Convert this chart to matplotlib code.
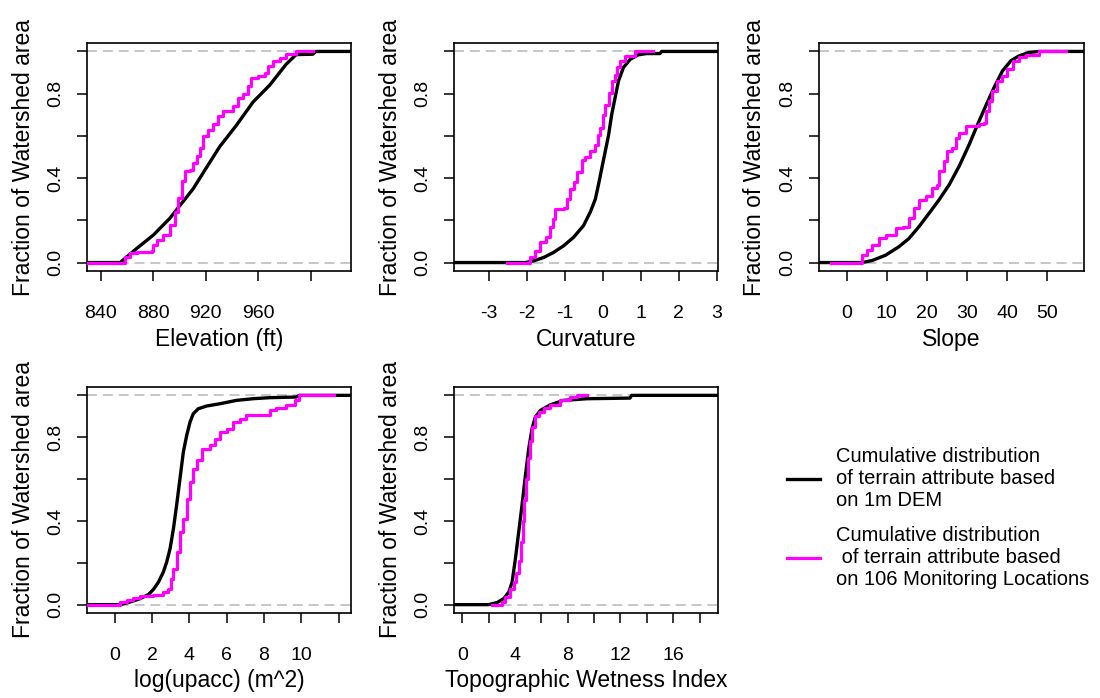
import matplotlib
matplotlib.use('Agg')
import matplotlib.pyplot as plt

plt.rcParams['font.family'] = ['Liberation Sans', 'DejaVu Sans']

# cumulative fraction curves: x = attribute value, f = fraction of watershed area
# black = whole 1m DEM, magenta = 106 monitoring locations

elev_dem_x = [829.4, 852, 854.7, 867.4, 880.0, 892.7, 900.3, 910.5, 920.6, 930.8, 943.4,
              956.1, 968.8, 981.5, 989.0, 1001.8, 1004, 1030.9]
elev_dem_f = [0, 0, 0.0, 0.067, 0.13, 0.21, 0.27, 0.35, 0.45, 0.55, 0.65,
              0.76, 0.84, 0.94, 0.985, 0.987, 1.0, 1.0]
elev_site_x = [829.4, 854.7, 858.5, 862.3, 867.4, 878.8, 880.0, 882.6, 887.7, 892.7, 896.5,
               899.0, 901.6, 904.1, 908.0, 910.5, 913.0, 915.6, 918.1, 921.9, 925.7, 929.5,
               933.3, 938.4, 940.9, 944.7, 948.5, 952.3, 954.8, 959.9, 965.0, 967.5, 971.3,
               976.4, 981.5, 989.1, 1001.8]
elev_site_f = [0, 0, 0.027, 0.043, 0.05, 0.054, 0.083, 0.106, 0.13, 0.178, 0.24,
               0.305, 0.384, 0.435, 0.44, 0.47, 0.503, 0.543, 0.598, 0.63, 0.654, 0.694,
               0.717, 0.72, 0.741, 0.781, 0.8, 0.837, 0.876, 0.884, 0.9, 0.932, 0.956,
               0.971, 0.987, 1.0, 1.0]

curv_dem_x = [-3.92, -2.04, -1.82, -1.56, -1.30, -1.03, -0.77, -0.51, -0.33, -0.20, -0.12,
              -0.03, 0.06, 0.15, 0.23, 0.32, 0.41, 0.54, 0.72, 0.93, 1.15, 1.50, 1.55, 3.03]
curv_dem_f = [0, 0, 0.008, 0.024, 0.048, 0.08, 0.12, 0.175, 0.24, 0.30, 0.366,
              0.446, 0.525, 0.605, 0.70, 0.78, 0.86, 0.924, 0.963, 0.984, 0.99, 0.99, 1.0, 1.0]
curv_site_x = [-2.52, -1.99, -1.91, -1.78, -1.65, -1.51, -1.38, -1.31, -1.25, -1.03, -0.95,
               -0.86, -0.77, -0.67, -0.55, -0.46, -0.33, -0.20, -0.14, -0.07, -0.01, 0.06,
               0.15, 0.23, 0.32, 0.37, 0.45, 0.58, 0.85, 1.33]
curv_site_f = [0, 0, 0.024, 0.056, 0.096, 0.12, 0.167, 0.207, 0.255, 0.258, 0.30,
               0.35, 0.38, 0.43, 0.486, 0.50, 0.53, 0.557, 0.605, 0.637, 0.70, 0.748,
               0.804, 0.86, 0.89, 0.924, 0.955, 0.979, 1.0, 1.0]

slope_dem_x = [-6.9, 3.9, 6.4, 9.7, 13.0, 15.5, 18.0, 20.5, 23.0, 25.5, 28.0, 30.5, 32.6,
               34.6, 36.7, 38.8, 40.9, 42.9, 45.4, 47.9, 59.1]
slope_dem_f = [0, 0, 0.01, 0.035, 0.075, 0.114, 0.17, 0.233, 0.297, 0.368, 0.456, 0.559, 0.654,
               0.741, 0.829, 0.908, 0.956, 0.979, 0.995, 1.0, 1.0]
slope_site_x = [-4.0, 3.5, 3.7, 5.1, 6.4, 8.1, 9.7, 12.2, 13.9, 15.5, 16.8, 18.0, 19.7, 21.3,
                22.6, 23.0, 24.3, 25.1, 26.3, 27.2, 28.0, 29.7, 32.1, 32.9, 34.2, 34.6, 35.5,
                36.3, 37.5, 38.8, 40.0, 41.3, 42.9, 44.6, 47.5, 47.9, 54.6]
slope_site_f = [0, 0, 0.035, 0.059, 0.083, 0.114, 0.13, 0.162, 0.17, 0.21, 0.257, 0.297, 0.313,
                0.352, 0.368, 0.432, 0.479, 0.527, 0.543, 0.59, 0.614, 0.646, 0.646, 0.654,
                0.662, 0.717, 0.765, 0.813, 0.86, 0.884, 0.916, 0.956, 0.975, 0.984, 0.984,
                1.0, 1.0]

upacc_dem_x = [-1.48, 0.3, 0.84, 1.37, 1.81, 2.08, 2.35, 2.61, 2.79, 2.97, 3.15, 3.32, 3.50,
               3.68, 3.86, 4.04, 4.21, 4.48, 4.92, 5.64, 6.52, 7.41, 8.3, 9.72, 9.9, 12.66]
upacc_dem_f = [0, 0, 0.013, 0.029, 0.048, 0.073, 0.108, 0.156, 0.204, 0.268, 0.363, 0.475,
               0.602, 0.729, 0.809, 0.873, 0.912, 0.936, 0.949, 0.96, 0.976, 0.984, 0.989,
               0.992, 1.0, 1.0]
upacc_site_x = [-1.48, -0.05, 0.3, 0.66, 1.01, 1.37, 2.08, 2.61, 2.88, 3.0, 3.15, 3.32, 3.5,
                3.68, 3.86, 4.04, 4.21, 4.39, 4.66, 5.1, 5.37, 5.64, 6.0, 6.35, 6.7, 7.06,
                8.21, 8.3, 8.66, 9.19, 9.64, 9.9, 11.77]
upacc_site_f = [0, 0, 0.013, 0.021, 0.033, 0.041, 0.048, 0.06, 0.076, 0.124, 0.172, 0.252,
                0.347, 0.411, 0.506, 0.586, 0.65, 0.69, 0.745, 0.761, 0.793, 0.825, 0.841,
                0.873, 0.889, 0.904, 0.904, 0.928, 0.94, 0.952, 0.976, 1.0, 1.0]

twi_dem_x = [-0.63, 2.0, 2.64, 3.15, 3.53, 3.78, 4.03, 4.28, 4.53, 4.79, 5.04, 5.29, 5.54,
             5.92, 6.68, 7.68, 9.45, 12.72, 12.85, 19.4]
twi_dem_f = [0, 0, 0.01, 0.029, 0.06, 0.108, 0.22, 0.347, 0.475, 0.618, 0.745, 0.841, 0.896,
             0.928, 0.955, 0.976, 0.984, 0.987, 1.0, 1.0]
twi_site_x = [2.27, 2.77, 3.02, 3.27, 3.6, 3.9, 4.1, 4.3, 4.45, 4.58, 4.7, 4.83, 4.96,
              5.1, 5.3, 5.5, 5.79, 6.17, 6.68, 7.43, 8.19, 8.69, 9.45]
twi_site_f = [0, 0, 0.013, 0.037, 0.076, 0.108, 0.15, 0.21, 0.30, 0.40, 0.50, 0.60, 0.70,
              0.78, 0.85, 0.90, 0.92, 0.94, 0.955, 0.976, 0.992, 1.0, 1.0]

x_titles = ['Elevation (ft)', 'Curvature', 'Slope', 'log(upacc) (m^2)', 'Topographic Wetness Index']
x_limits = [(829.4, 1030.9), (-3.92, 3.03), (-6.9, 59.1), (-1.48, 12.66), (-0.63, 19.4)]
x_ticks = [[840, 880, 920, 960, 1000],
           [-3, -2, -1, 0, 1, 2, 3],
           [0, 10, 20, 30, 40, 50],
           [0, 2, 4, 6, 8, 10, 12],
           [0, 2, 4, 6, 8, 10, 12, 14, 16, 18]]
x_ticklabels = [['840', '880', '920', '960', ''],
                ['-3', '-2', '-1', '0', '1', '2', '3'],
                ['0', '10', '20', '30', '40', '50'],
                ['0', '2', '4', '6', '8', '10', ''],
                ['0', '', '4', '', '8', '', '12', '', '16', '']]
y_ticks = [0, 0.2, 0.4, 0.6, 0.8, 1.0]
y_ticklabels = ['0.0', '', '0.4', '', '0.8', '']

dem_x = [elev_dem_x, curv_dem_x, slope_dem_x, upacc_dem_x, twi_dem_x]
dem_f = [elev_dem_f, curv_dem_f, slope_dem_f, upacc_dem_f, twi_dem_f]
site_x = [elev_site_x, curv_site_x, slope_site_x, upacc_site_x, twi_site_x]
site_f = [elev_site_f, curv_site_f, slope_site_f, upacc_site_f, twi_site_f]

legend_labels = ['Cumulative distribution\nof terrain attribute based\non 1m DEM',
                 'Cumulative distribution\n of terrain attribute based\non 106 Monitoring Locations']

W, H = 1100, 698
fig = plt.figure(figsize=(11, 6.98), dpi=100)

# axes boxes in pixels: left, top, right, bottom
boxes = [(87, 43, 351, 271), (454, 43, 718, 271), (819, 43, 1084, 271),
         (87, 387, 351, 613), (454, 387, 718, 613)]

handles = []
for i, (l, t, r, b) in enumerate(boxes):
    ax = fig.add_axes([l / W, 1 - b / H, (r - l) / W, (b - t) / H])
    ax.axhline(0, color='#bebebe', lw=1.2, dashes=(6, 3.5), zorder=1)
    ax.axhline(1, color='#bebebe', lw=1.2, dashes=(6, 3.5), zorder=1)
    # DEM curve is dense, so a plain line through the read points
    h1, = ax.plot(dem_x[i], dem_f[i], color='black', lw=2.4, zorder=2)
    h2, = ax.step(site_x[i], site_f[i], where='post', color='#ff00ff', lw=2.3, zorder=3)
    if i == 0:
        handles = [h1, h2]
    ax.set_xlim(*x_limits[i])
    ax.set_ylim(-0.04, 1.04)
    ax.set_xticks(x_ticks[i])
    ax.set_xticklabels(x_ticklabels[i])
    ax.set_yticks(y_ticks)
    ax.set_yticklabels(y_ticklabels)
    plt.setp(ax.get_yticklabels(), rotation=90, va='center')
    ax.tick_params(axis='both', direction='out', length=7.5, width=1.1, labelsize=14)
    ax.tick_params(axis='x', pad=17)
    ax.tick_params(axis='y', pad=9)
    for sp in ax.spines.values():
        sp.set_linewidth(1.2)
    ax.set_xlabel(x_titles[i], fontsize=16.5)
    ax.xaxis.set_label_coords(0.5, -0.30)
    ax.xaxis.label.set_va('center')
    ax.set_ylabel('Fraction of Watershed area', fontsize=16.5)
    ax.yaxis.set_label_coords(-0.242, 0.5)
    ax.yaxis.label.set_va('center')

fig.legend(handles, legend_labels, loc='center left', bbox_to_anchor=(787 / W, 1 - 518 / H),
           frameon=False, fontsize=14.5, handlelength=1.65, handletextpad=0.8,
           labelspacing=0.8, borderpad=0, borderaxespad=0)

fig.savefig('out.png', dpi=100)
